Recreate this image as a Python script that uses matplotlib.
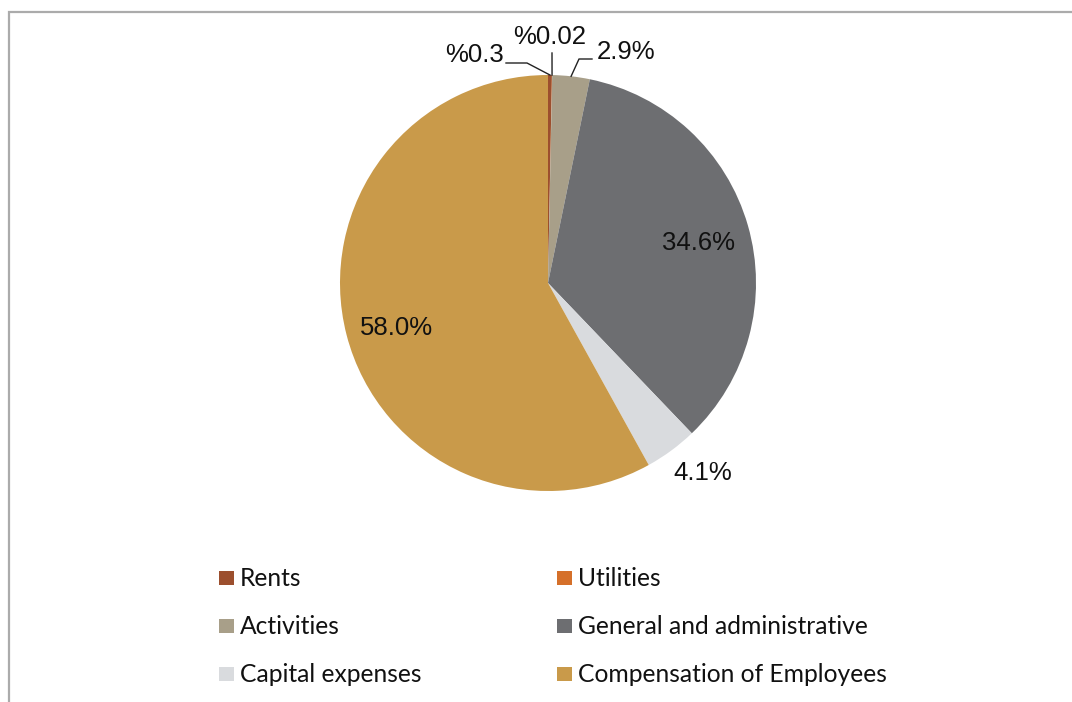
import numpy as np
import matplotlib.pyplot as plt
from matplotlib.patches import Rectangle

# data
categories = ['Rents', 'Utilities', 'Activities', 'General and administrative',
              'Capital expenses', 'Compensation of Employees']
shares = [0.3, 0.02, 2.9, 34.6, 4.1, 58.0]
value_labels = ['%0.3', '%0.02', '2.9%', '34.6%', '4.1%', '58.0%']
colors = ['#9C4F2E', '#D5702A', '#A89F89', '#6D6E71', '#D9DBDE', '#C99A4A']

W, H = 1072, 702
fig = plt.figure(figsize=(W / 100, H / 100), dpi=100)
ax = fig.add_axes([0, 0, 1, 1])

def py(y):
    # pixel row (from top) -> data y
    return H - y

cx, cy, R = 548, py(283), 208
wedges, _ = ax.pie(shares, colors=colors, startangle=90, counterclock=False,
                   center=(cx, cy), radius=R, frame=True,
                   wedgeprops=dict(linewidth=0))
ax.set_xlim(0, W)
ax.set_ylim(0, H)
ax.set_aspect('equal')
ax.axis('off')

def edge_point(w, frac=1.0):
    a = np.deg2rad((w.theta1 + w.theta2) / 2)
    return cx + frac * R * np.cos(a), cy + frac * R * np.sin(a)

lab_font = dict(family=['Liberation Sans', 'DejaVu Sans'], fontsize=18.5, color='#111111')

# labels inside / just outside the big slices (frac, dx, dy nudges)
for i, frac, dx, dy in [(3, 0.755, 0, -3), (5, 0.76, 2, -5), (4, 1.18, 9, 8)]:
    x, y = edge_point(wedges[i], frac)
    ax.text(x + dx, y + dy, value_labels[i], ha='center', va='center', **lab_font)

# small slices with leader lines
small = [
    (0, (475, 55), [(506, 63), (527, 63)]),
    (1, (550, 37), [(552, 53)]),
    (2, (626, 52), [(592, 59), (579, 59)]),
]
for i, (tx, ty), pts in small:
    ax.text(tx, py(ty), value_labels[i], ha='center', va='center', **lab_font)
    ex, ey = edge_point(wedges[i])
    xs = [p[0] for p in pts] + [ex]
    ys = [py(p[1]) for p in pts] + [ey]
    ax.plot(xs, ys, color='#222222', lw=1.0)

# legend (2 columns, row-wise)
leg_x = [219, 557]
leg_y = [578, 626, 674]
for k, (name, col) in enumerate(zip(categories, colors)):
    x0 = leg_x[k % 2]
    y0 = leg_y[k // 2]
    ax.add_patch(Rectangle((x0, py(y0) - 7), 15, 14, facecolor=col, edgecolor='none'))
    ax.text(x0 + 21, py(y0), name, ha='left', va='center',
            family=['Lato', 'DejaVu Sans'], fontsize=17.7, color='#111111')

# chart border (top and left visible)
ax.plot([8.5, 8.5, W], [0, py(11.5), py(11.5)], color='#ABABAB', lw=1.6,
        solid_joinstyle='miter')

fig.savefig('out.png', dpi=100)
